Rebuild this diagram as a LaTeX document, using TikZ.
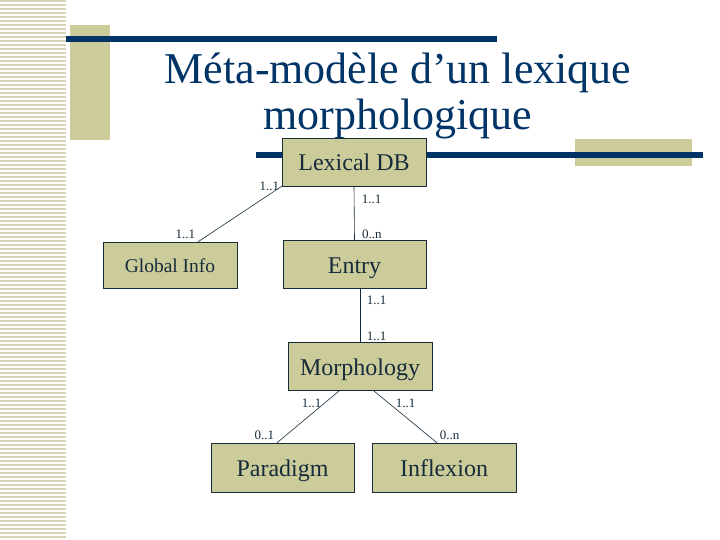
\documentclass[tikz,border=0pt]{standalone}
\usepackage{fontspec}
\setmainfont{Liberation Serif}
\usetikzlibrary{calc}
\definecolor{beige}{RGB}{204,204,155}
\definecolor{rayure}{RGB}{214,214,182}
\definecolor{marine}{RGB}{0,51,102}
\definecolor{encre}{RGB}{22,44,58}
\tikzset{
  boite/.style={draw=encre, fill=beige, text=encre, minimum width=143pt,
    minimum height=48pt, inner sep=0pt, text height=20pt, text depth=2pt,
    font=\fontsize{24}{28}\selectfont},
  lien/.style={draw=encre, line width=0.6pt},
  card/.style={text=encre, inner sep=2.5pt, font=\fontsize{13}{15}\selectfont},
  barre/.style={line width=6pt, marine},
}

\begin{document}
\begin{tikzpicture}[x=1pt, y=-1pt]
  \useasboundingbox (0,0) rectangle (720,540);
  % decor
  \foreach \y in {1,5,...,537}
    \draw[rayure, line width=1.2pt] (0,\y) -- (66,\y);
  \fill[beige] (70,25) rectangle (110,140);
  \fill[beige] (575,139) rectangle (692,166);
  \draw[barre] (66,39) -- (497,39);
  \draw[barre] (256,155) -- (703,155);
  \node[text=marine, align=center, font=\fontsize{44}{46}\selectfont] (titre) at (398,96)
    {Méta-modèle d’un lexique\\morphologique};
  % classes
  \node[boite, minimum width=144pt] (lex) at (354,162) {Lexical DB};
  \node[boite, minimum width=134pt, minimum height=46pt, text height=16pt,
    font=\fontsize{19.5}{22}\selectfont] (gi) at (170,265) {Global Info};
  \node[boite] (entry) at (354.5,264) {Entry};
  \node[boite, minimum width=144pt] (morph) at (360,366) {Morphology};
  \node[boite, minimum height=49pt] (par) at (282.5,467.5) {Paradigm};
  \node[boite, minimum width=144pt, minimum height=49pt] (inf) at (444,467.5) {Inflexion};
  % associations
  \draw[lien] (lex.south west) -- ([xshift=28pt]gi.north)
    node[card, at start, left]{1..1} node[card, at end, above left]{1..1};
  \draw[lien] (lex.south) -- (entry.north)
    node[card, pos=0.24, right=5pt]{1..1} node[card, pos=0.89, right=5pt]{0..n};
  \draw[lien] (entry.south -| morph.north) -- (morph.north)
    node[card, pos=0.22, right=4pt]{1..1} node[card, pos=0.89, right=4pt]{1..1};
  \draw[lien] ([xshift=-20pt]morph.south) -- ([xshift=-5.5pt]par.north)
    node[card, pos=0.25, left]{1..1} node[card, at end, above left]{0..1};
  \draw[lien] ([xshift=13pt]morph.south) -- ([xshift=-7pt]inf.north)
    node[card, pos=0.25, right=4pt]{1..1} node[card, at end, above right]{0..n};
\end{tikzpicture}
\end{document}
